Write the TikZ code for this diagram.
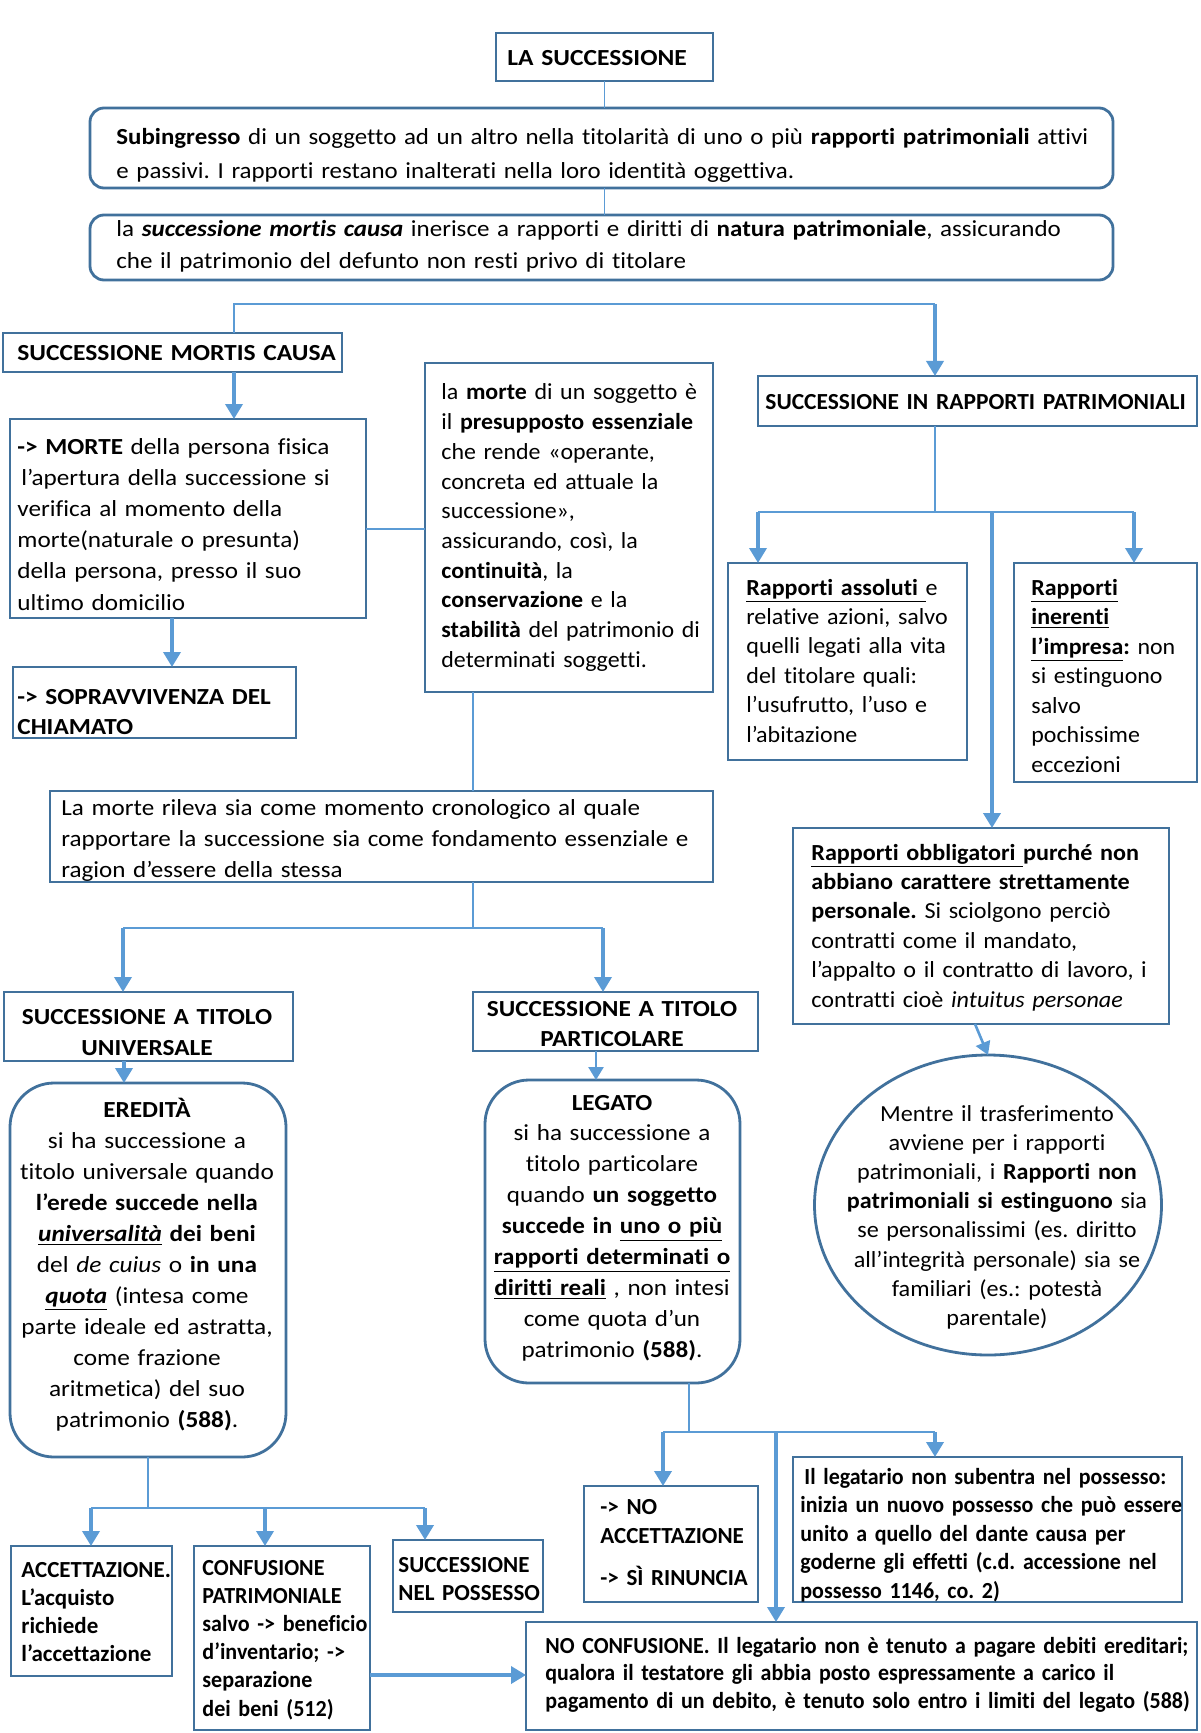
\documentclass[tikz,border=0pt]{standalone}
\usepackage{fontspec}
\setmainfont{Carlito}[Ligatures={TeX,NoCommon}]
\usetikzlibrary{arrows.meta,shapes.geometric}
\definecolor{bblue}{RGB}{65,113,156}
\definecolor{lblue}{RGB}{91,155,213}
\newcommand{\fs}[2][1]{\fontsize{11.5}{#2}\selectfont\addfontfeatures{FakeStretch=#1}\frenchspacing}
\newcommand{\mkbox}[6][]{\node[box,#1,anchor=north west,minimum width={0.5pt*(#4-#2)},minimum height={0.5pt*(#5-#3)}] (#6) at (#2,#3) {};}
\begin{document}
\begin{tikzpicture}[x=0.5pt,y=-0.5pt,
  box/.style={draw=bblue,line width=1.4pt,fill=white,inner sep=0pt,outer sep=0pt},
  tl/.style={inner sep=0pt,anchor=base west,align=left,text width=#1},
  tc/.style={inner sep=0pt,anchor=base,align=center,text width=#1},
  conn/.style={draw=lblue,line width=0.8pt},
  med/.style={draw=lblue,line width=1.1pt},
  arr/.style={draw=lblue,line width=1.8pt,-{Triangle[length=7.5pt,width=8.5pt]}},
  arrm/.style={draw=lblue,line width=1.3pt,-{Triangle[length=6.5pt,width=7.5pt]}}]
\useasboundingbox (0,0) rectangle (1200,1733);
\fill[white] (0,0) rectangle (1200,1733);
% boxes
\mkbox{496}{33}{713}{81}{title}
\mkbox[rounded corners=7pt]{90}{108}{1113}{188}{b2}
\mkbox[rounded corners=7pt]{90}{215}{1113}{280}{b3}
\mkbox{3}{333}{342}{372}{smc}
\mkbox{10}{419}{366}{618}{b5}
\mkbox{13}{667}{296}{738}{b6}
\mkbox{425}{363}{713}{692}{b7}
\mkbox{50}{791}{713}{882}{b8}
\mkbox{4}{992}{293}{1061}{b9}
\mkbox{473}{992}{758}{1051}{b10}
\mkbox[rounded corners=22pt]{10}{1083}{286}{1457}{ered}
\mkbox[rounded corners=22pt]{485}{1080}{740}{1383}{leg}
\mkbox{758}{376}{1197}{426}{rp}
\mkbox{728}{563}{967}{760}{ra}
\mkbox{1014}{563}{1197}{782}{ri}
\mkbox{793}{828}{1169}{1024}{ro}
\node[box,ellipse,minimum width=173.5pt,minimum height=150pt] (el) at (988,1205) {};
\mkbox{11}{1546}{172}{1676}{acc}
\mkbox{194}{1546}{370}{1730}{conf}
\mkbox{393}{1540}{543}{1612}{snp}
\mkbox{584}{1486}{758}{1602}{noacc}
\mkbox{793}{1457}{1182}{1602}{legpos}
\mkbox{526}{1622}{1197}{1730}{noconf}
% junctions
\coordinate (j1) at (935,304);
\coordinate (j2) at (473,928);
\coordinate (j3) at (935,512);
\coordinate (j4) at (148,1508);
\coordinate (j5) at (689,1432);
% connectors
\draw[conn] (title.south) -- (title.south |- b2.north);
\draw[conn] (b2.south -| title.south) -- (b3.north -| title.south);
\draw[conn] (smc.north -| 234,0) |- (j1);
\draw[arr] (j1) -- (rp.north -| j1);
\draw[arr] (smc.south -| 234,0) -- (b5.north -| 234,0);
\draw[arr] (b5.south -| 172,0) -- (b6.north -| 172,0);
\draw[conn] (b5.east |- 0,529) -- (b7.west |- 0,529);
\draw[conn] (b7.south -| j2) -- (b8.north -| j2);
\draw[conn] (b8.south -| j2) -- (j2);
\draw[med] (123,928) -- (603,928);
\draw[arr] (123,928) -- (b9.north -| 123,0);
\draw[arr] (603,928) -- (b10.north -| 603,0);
\draw[arr] (b9.south -| 124,0) -- (ered.north -| 124,0);
\draw[arrm] (b10.south -| 596,0) -- (leg.north -| 596,0);
\draw[conn] (rp.south -| j3) -- (j3);
\draw[med] (758,512) -- (1134,512);
\draw[arr] (758,512) -- (ra.north -| 758,0);
\draw[arr] (1134,512) -- (ri.north -| 1134,0);
\draw[arr,line width=2pt] (992,512) -- (ro.north -| 992,0);
\draw[arrm] (ro.south -| 975,0) -- (el.north);
\draw[conn] (ered.south -| j4) -- (j4);
\draw[med] (91,1508) -- (425,1508);
\draw[arr] (91,1508) -- (acc.north -| 91,0);
\draw[arr] (265,1508) -- (conf.north -| 265,0);
\draw[arr] (425,1508) -- (snp.north -| 425,0);
\draw[conn] (leg.south -| j5) -- (j5);
\draw[med] (663,1432) -- (935,1432);
\draw[arr] (663,1432) -- (noacc.north -| 663,0);
\draw[arr] (935,1432) -- (legpos.north -| 935,0);
\draw[arr] (776,1432) -- (noconf.north -| 776,0);
\draw[arr] (conf.east |- 0,1675) -- (noconf.west |- 0,1675);
% texts
\node[tl=150pt,font={\fs[1.11]{14}}] (t0) at (507,66) {\textbf{LA SUCCESSIONE}};
\node[tl=560pt,font={\fs[1.083]{17}}] (t2) at (116,145) {\textbf{Subingresso} di un soggetto ad un altro nella titolarità di uno o più \textbf{rapporti patrimoniali} attivi\\ e passivi. I rapporti restano inalterati nella loro identità oggettiva.};
\node[tl=560pt,font={\fs[1.087]{16}}] (t3) at (116,237) {la \textbf{\textit{successione mortis causa}} inerisce a rapporti e diritti di \textbf{natura patrimoniale}, assicurando\\ che il patrimonio del defunto non resti privo di titolare};
\node[tl=200pt,font={\fs[1.11]{14}}] (t4) at (17,360) {\textbf{SUCCESSIONE MORTIS CAUSA}};
\node[tl=200pt,font={\fs[1.095]{15.6}}] (t5) at (17,454) {\textbf{-> MORTE} della persona fisica\\ \hspace*{2pt}l’apertura della successione si\\ verifica al momento della\\ morte(naturale o presunta)\\ della persona, presso il suo\\ ultimo domicilio};
\node[tl=180pt,font={\fs[1.1]{15}}] (t6) at (17,704) {\textbf{-> SOPRAVVIVENZA DEL}\\ \textbf{CHIAMATO}};
\node[tl=170pt,font={\fs[1.04]{14.85}}] (t7) at (441,400) {la \textbf{morte} di un soggetto è\\ il \textbf{presupposto essenziale}\\ che rende «operante,\\ concreta ed attuale la\\ successione»,\\ assicurando, così, la\\ \textbf{continuità}, la\\ \textbf{conservazione} e la\\ \textbf{stabilità} del patrimonio di\\ determinati soggetti.};
\node[tl=360pt,font={\fs[1.09]{15.5}}] (t8) at (61,815) {La morte rileva sia come momento cronologico al quale\\ rapportare la successione sia come fondamento essenziale e\\ ragion d’essere della stessa};
\node[tc=170pt,font={\fs[1.1]{15.5}}] (t9) at (147,1024) {\textbf{SUCCESSIONE A TITOLO}\\ \textbf{UNIVERSALE}};
\node[tc=170pt,font={\fs[1.1]{15}}] (t10) at (612,1016) {\textbf{SUCCESSIONE A TITOLO}\\ \textbf{PARTICOLARE}};
\node[tc=170pt,font={\fs[1.1]{15.5}}] (t11) at (147,1117) {\textbf{EREDITÀ}\\ si ha successione a\\ titolo universale quando\\ \textbf{l’erede succede nella}\\ \textbf{\underline{\textit{universalità}} dei beni}\\ del \textit{de cuius} o \textbf{in una}\\ \textbf{\underline{\textit{quota}}} (intesa come\\ parte ideale ed astratta,\\ come frazione\\ aritmetica) del suo\\ patrimonio \textbf{(588)}.};
\node[tc=170pt,font={\fs[1.09]{15.45}}] (t12) at (612,1110) {\textbf{LEGATO}\\ si ha successione a\\ titolo particolare\\ quando \textbf{un soggetto}\\ \textbf{succede in \underline{uno o più}}\\ \textbf{\underline{rapporti determinati o}}\\ \textbf{\underline{diritti reali}} , non intesi\\ come quota d’un\\ patrimonio \textbf{(588)}.};
\node[tl=230pt,font={\fs[1.02]{14}}] (t13) at (765,409) {\textbf{SUCCESSIONE IN RAPPORTI PATRIMONIALI}};
\node[tl=130pt,font={\fs[1.045]{14.7}}] (t14) at (746,595) {\textbf{\underline{Rapporti assoluti }}e\\ relative azioni, salvo\\ quelli legati alla vita\\ del titolare quali:\\ l’usufrutto, l’uso e\\ l’abitazione};
\node[tl=100pt,font={\fs[1.04]{14.75}}] (t15) at (1031,595) {\textbf{\underline{Rapporti}}\\ \textbf{\underline{inerenti}}\\ \textbf{\underline{l’impresa}:} non\\ si estinguono\\ salvo\\ pochissime\\ eccezioni};
\node[tl=200pt,font={\fs[1.05]{14.7}}] (t16) at (811,860) {\textbf{\underline{Rapporti obbligatori }purché non}\\ \textbf{abbiano carattere strettamente}\\ \textbf{personale.} Si sciolgono perciò\\ contratti come il mandato,\\ l’appalto o il contratto di lavoro, i\\ contratti cioè \textit{intuitus personae}};
\node[tc=190pt,font={\fs[1.05]{14.6}}] (t17) at (997,1121) {Mentre il trasferimento\\ avviene per i rapporti\\ patrimoniali, i \textbf{Rapporti non}\\ \textbf{patrimoniali si estinguono} sia\\ se personalissimi (es. diritto\\ all’integrità personale) sia se\\ familiari (es.: potestà\\ parentale)};
\node[tl=100pt,font={\fs[1.0]{14}}] (t18) at (21,1577) {\textbf{ACCETTAZIONE.}\\ \textbf{L’acquisto}\\ \textbf{richiede}\\ \textbf{l’accettazione}};
\node[tl=100pt,font={\fs[0.96]{14.1}}] (t19) at (202,1575) {\textbf{CONFUSIONE}\\ \textbf{PATRIMONIALE}\\ \textbf{salvo -> beneficio}\\ \textbf{d’inventario; ->}\\ \textbf{separazione}\\ \textbf{dei beni (512)}};
\node[tl=90pt,font={\fs[1.0]{14}}] (t20) at (398,1572) {\textbf{SUCCESSIONE}\\ \textbf{NEL POSSESSO}};
\node[tl=100pt,font={\fs[1.0]{14.5}}] (t21) at (600,1514) {\textbf{-> NO}\\ \textbf{ACCETTAZIONE}\\[6.5pt] \textbf{-> SÌ RINUNCIA}};
\node[tl=230pt,font={\fs[0.955]{14.25}}] (t22) at (800,1484) {\textbf{\hspace*{2pt}Il legatario non subentra nel possesso:}\\ \textbf{inizia un nuovo possesso che può essere}\\ \textbf{unito a quello del dante causa per}\\ \textbf{goderne gli effetti (c.d. accessione nel}\\ \textbf{possesso 1146, co. 2)}};
\node[tl=360pt,font={\fs[0.955]{13.75}}] (t23) at (545,1653) {\textbf{NO CONFUSIONE. Il legatario non è tenuto a pagare debiti ereditari;}\\ \textbf{qualora il testatore gli abbia posto espressamente a carico il}\\ \textbf{pagamento di un debito, è tenuto solo entro i limiti del legato (588)}};
\end{tikzpicture}
\end{document}
